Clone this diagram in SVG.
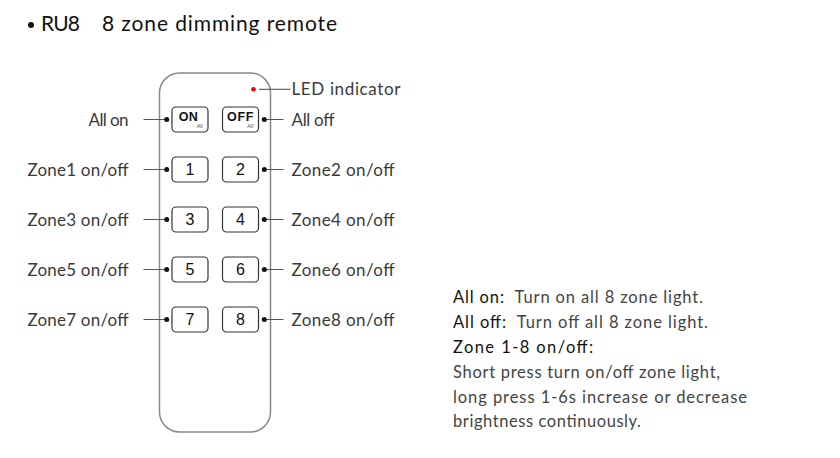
<svg xmlns="http://www.w3.org/2000/svg" width="840" height="458" viewBox="0 0 840 458">
<style>
.lbl{font-family:"Lato","Liberation Sans",sans-serif;font-size:17px;fill:#3a3a3a}
.ttl{font-family:"Lato","Liberation Sans",sans-serif;font-size:21px;fill:#111}
.desc{font-family:"Lato","Liberation Sans",sans-serif;font-size:16.5px;fill:#444}
.dh{fill:#111}
.btn{fill:#fff;stroke:#333;stroke-width:1.2}
.num{font-family:"Liberation Sans",Arial,sans-serif;font-size:16px;fill:#111;text-anchor:middle}
.bt{font-family:"Liberation Sans",Arial,sans-serif;font-size:12.5px;font-weight:bold;fill:#111}
.sm{font-family:"Liberation Sans",Arial,sans-serif;font-size:5.5px;fill:#555}
.ln{stroke:#555;stroke-width:1.1;fill:none}
.dot{fill:#111}
</style>
<rect width="840" height="458" fill="#fff"/>
<g id="title">
<circle cx="31" cy="25" r="3" fill="#111"/>
<text class="ttl" x="41" y="31" textLength="39">RU8</text>
<text class="ttl" x="102" y="31" textLength="235">8 zone dimming remote</text>
</g>
<g id="remote">
<rect x="159.5" y="73" width="111" height="359" rx="20" fill="#fff" stroke="#888" stroke-width="1.5"/>
<circle id="led" cx="253.5" cy="89.3" r="2.3" fill="#e00"/>
</g>
<g id="btn-on"><rect class="btn" x="172" y="107" width="36" height="25" rx="4"/><text class="bt" x="178.8" y="121.2" textLength="19">ON</text><text class="sm" x="196.7" y="128">All</text></g>
<g id="btn-off"><rect class="btn" x="222.5" y="107" width="36" height="25" rx="4"/><text class="bt" x="227" y="121.2" textLength="26.5">OFF</text><text class="sm" x="247.3" y="128">All</text></g>
<g id="btn-1"><rect class="btn" x="172" y="157" width="36" height="25" rx="4"/><text class="num" x="190" y="175">1</text></g>
<g id="btn-2"><rect class="btn" x="222.5" y="157" width="36" height="25" rx="4"/><text class="num" x="240.5" y="175">2</text></g>
<g id="btn-3"><rect class="btn" x="172" y="207" width="36" height="25" rx="4"/><text class="num" x="190" y="225">3</text></g>
<g id="btn-4"><rect class="btn" x="222.5" y="207" width="36" height="25" rx="4"/><text class="num" x="240.5" y="225">4</text></g>
<g id="btn-5"><rect class="btn" x="172" y="257" width="36" height="25" rx="4"/><text class="num" x="190" y="275">5</text></g>
<g id="btn-6"><rect class="btn" x="222.5" y="257" width="36" height="25" rx="4"/><text class="num" x="240.5" y="275">6</text></g>
<g id="btn-7"><rect class="btn" x="172" y="307" width="36" height="25" rx="4"/><text class="num" x="190" y="325">7</text></g>
<g id="btn-8"><rect class="btn" x="222.5" y="307" width="36" height="25" rx="4"/><text class="num" x="240.5" y="325">8</text></g>
<g id="connectors">
<path class="ln" d="M259 89.3H290.5"/>
<path class="ln" d="M143.5 119.5H167M143.5 169.5H167M143.5 219.5H167M143.5 269.5H167M143.5 319.5H167"/>
<path class="ln" d="M264 119.5H283.5M264 169.5H283.5M264 219.5H283.5M264 269.5H283.5M264 319.5H283.5"/>
<g class="dot">
<circle cx="166.7" cy="119.5" r="2.5"/><circle cx="166.7" cy="169.5" r="2.5"/><circle cx="166.7" cy="219.5" r="2.5"/><circle cx="166.7" cy="269.5" r="2.5"/><circle cx="166.7" cy="319.5" r="2.5"/>
<circle cx="264.3" cy="119.5" r="2.5"/><circle cx="264.3" cy="169.5" r="2.5"/><circle cx="264.3" cy="219.5" r="2.5"/><circle cx="264.3" cy="269.5" r="2.5"/><circle cx="264.3" cy="319.5" r="2.5"/>
</g>
</g>
<g id="labels-left" text-anchor="end">
<text class="lbl" x="128.5" y="125.5" textLength="40">All on</text>
<text class="lbl" x="128.5" y="175.5" textLength="101">Zone1 on/off</text>
<text class="lbl" x="128.5" y="225.5" textLength="101">Zone3 on/off</text>
<text class="lbl" x="128.5" y="275.5" textLength="101">Zone5 on/off</text>
<text class="lbl" x="128.5" y="325.5" textLength="101">Zone7 on/off</text>
</g>
<g id="labels-right">
<text class="lbl" x="291.5" y="95.3" textLength="109">LED indicator</text>
<text class="lbl" x="291.5" y="125.5" textLength="43">All off</text>
<text class="lbl" x="291.5" y="175.5" textLength="103">Zone2 on/off</text>
<text class="lbl" x="291.5" y="225.5" textLength="103">Zone4 on/off</text>
<text class="lbl" x="291.5" y="275.5" textLength="103">Zone6 on/off</text>
<text class="lbl" x="291.5" y="325.5" textLength="103">Zone8 on/off</text>
</g>
<g id="description">
<text class="desc" x="453" y="302.7" textLength="250"><tspan class="dh">All on:</tspan>&#160; Turn on all 8 zone light.</text>
<text class="desc" x="453" y="327.7" textLength="255"><tspan class="dh">All off:</tspan>&#160; Turn off all 8 zone light.</text>
<text class="desc dh" x="453" y="352.7" textLength="140">Zone 1-8 on/off:</text>
<text class="desc" x="453" y="377.7" textLength="267">Short press turn on/off zone light,</text>
<text class="desc" x="453" y="402.5" textLength="294">long press 1-6s increase or decrease</text>
<text class="desc" x="453" y="427" textLength="188">brightness continuously.</text>
</g>
</svg>
